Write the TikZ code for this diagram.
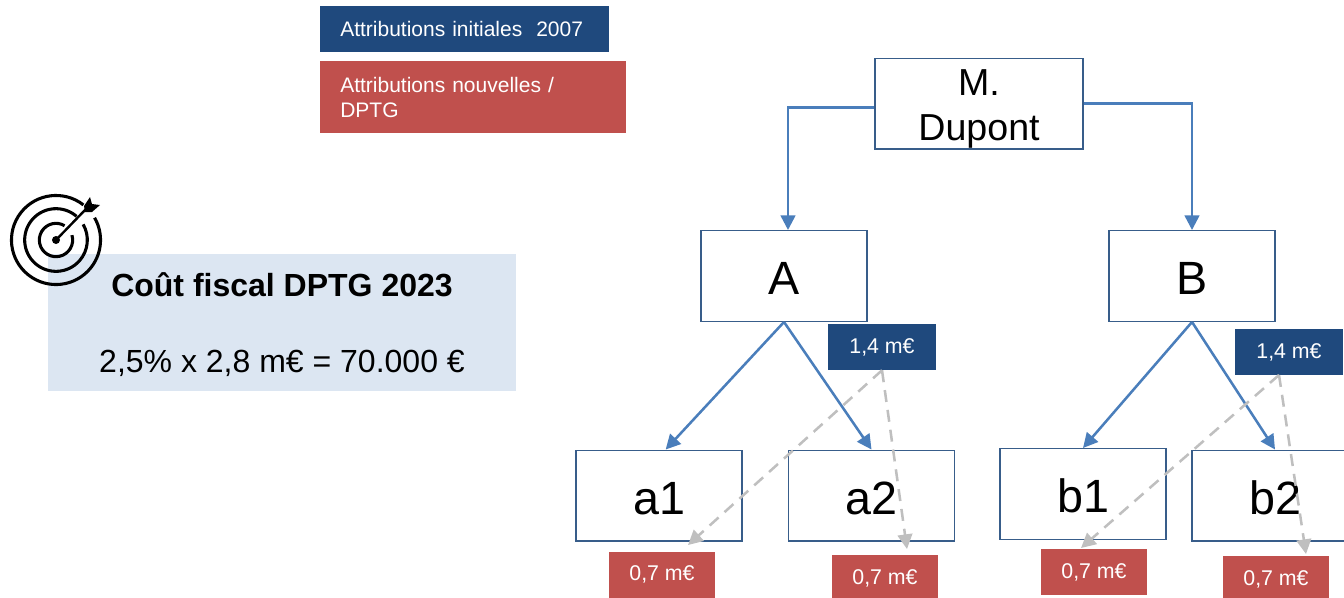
\documentclass[tikz,border=0pt]{standalone}
\usepackage{fontspec}
\setmainfont{Liberation Sans}
\usetikzlibrary{arrows.meta}
\definecolor{navyfill}{HTML}{1F497D}
\definecolor{redfill}{HTML}{C0504D}
\definecolor{palefill}{HTML}{DCE6F2}
\definecolor{linkblue}{HTML}{4A7EBB}
\definecolor{boxline}{HTML}{385D8A}
\definecolor{flowgray}{HTML}{BFBFBF}
\tikzset{
	person/.style={draw=boxline, line width=1pt, minimum width=124.5pt, minimum height=68pt, inner sep=0pt, align=center, text height=28pt, text depth=0pt, font=\fontsize{35}{40}\selectfont},
	amount/.style={text=white, minimum width=80pt, minimum height=34.5pt, inner sep=0pt, font=\fontsize{16}{18}\selectfont},
	legendbox/.style={text=white, anchor=north west, inner xsep=15pt, inner ysep=0pt, align=left, font=\fontsize{15.75}{18.75}\selectfont},
	link/.style={draw=linkblue, line width=1.9pt, -{Triangle[length=11pt, width=11pt]}},
	flow/.style={draw=flowgray, line width=1.9pt, dash pattern=on 9pt off 6pt, -{Triangle[length=11pt, width=11pt]}},
	ring/.style={line width=2.3pt}
}
\begin{document}
\begin{tikzpicture}[x=0.75pt, y=-0.75pt]
			\clip (0,0) rectangle (1344,597);
			
			% legend
			\node[legendbox, fill=navyfill, minimum width=216.75pt, minimum height=34.5pt, text width=186.75pt] (lgA) at (320,6) {Attributions initiales~~2007};
			\node[legendbox, fill=redfill, minimum width=229.5pt, minimum height=54pt, text width=199.5pt] (lgB) at (320,61) {Attributions nouvelles /\\DPTG};
			
			% cost box
			\node[fill=palefill, minimum width=351pt, minimum height=103pt, inner sep=0pt] (cost) at (282,322.5) {};
			\node[font=\fontsize{24}{28}\bfseries\selectfont] (costT) at (282,285) {Coût fiscal DPTG 2023};
			\node[font=\fontsize{24}{28}\selectfont] (costV) at (282,363.5) {2,5\% x 2,8 m€ = 70.000 €};
			
			% target icon
			\draw[ring] (56,240) ++(52:33.4pt) arc[start angle=52, end angle=390, radius=33.4pt];
			\draw[ring] (56,240) ++(49:23.5pt) arc[start angle=49, end angle=390, radius=23.5pt];
			\draw[ring] (56,240) ++(59:12.5pt) arc[start angle=59, end angle=377, radius=12.5pt];
			\fill (56,240) circle[radius=3pt];
			\draw[line width=1.8pt] (56,240) -- (86,209);
			\fill (84,206) -- (90,197) -- (92,204) -- (100,205) -- (92,212) -- (85,212) -- cycle;
			
			% tree
			\node[person, font=\fontsize{28.2}{33.75}\selectfont, minimum width=156pt, text height=56pt, text depth=0pt] (dupont) at (979,103.5) {M.\\Dupont};
			\node[person] (A) at (784,276) {A};
			\node[person] (B) at (1192,276) {B};
			\node[person] (a1) at (659,495.5) {a1};
			\node[person] (a2) at (871.5,495.5) {a2};
			\node[person] (b1) at (1083,494) {b1};
			\node[person] (b2) at (1275,495.5) {b2};
			
			\draw[link] ([yshift=-3pt]dupont.west) -| ([xshift=3pt]A.north);
			\draw[link] (dupont.east) -| (B.north);
			
			\draw[link] (A.south) -- ([xshift=5pt]a1.north);
			\def\list {A/a2, B/b1, B/b2}  % parent to child
			\foreach \u\v in \list
			{	\draw[link] (\u.south) -- (\v.north);}
			
			% amounts
			\node[amount, fill=navyfill, minimum width=81pt] (tagA) at (882,347) {1,4 m€};
			\node[amount, fill=navyfill, minimum width=81pt] (tagB) at (1289,352) {1,4 m€};
			\node[amount, fill=redfill] (taga1) at (662,574.5) {0,7 m€};
			\node[amount, fill=redfill] (taga2) at (885,578) {0,7 m€};
			\node[amount, fill=redfill] (tagb1) at (1094,572) {0,7 m€};
			\node[amount, fill=redfill] (tagb2) at (1276,579) {0,7 m€};
			
			\coordinate (enda1) at (688,545);
			\coordinate (enda2) at (907,549);
			\coordinate (endb1) at (1081,548);
			\coordinate (endb2) at (1306,554);
			\coordinate (startb) at (1279,375);
			
			\draw[flow] (tagA.south) -- (enda1);
			\draw[flow] (tagA.south) -- (enda2);
			\draw[flow] (startb) -- (endb1);
			\draw[flow] (startb) -- (endb2);
		\end{tikzpicture}
\end{document}
